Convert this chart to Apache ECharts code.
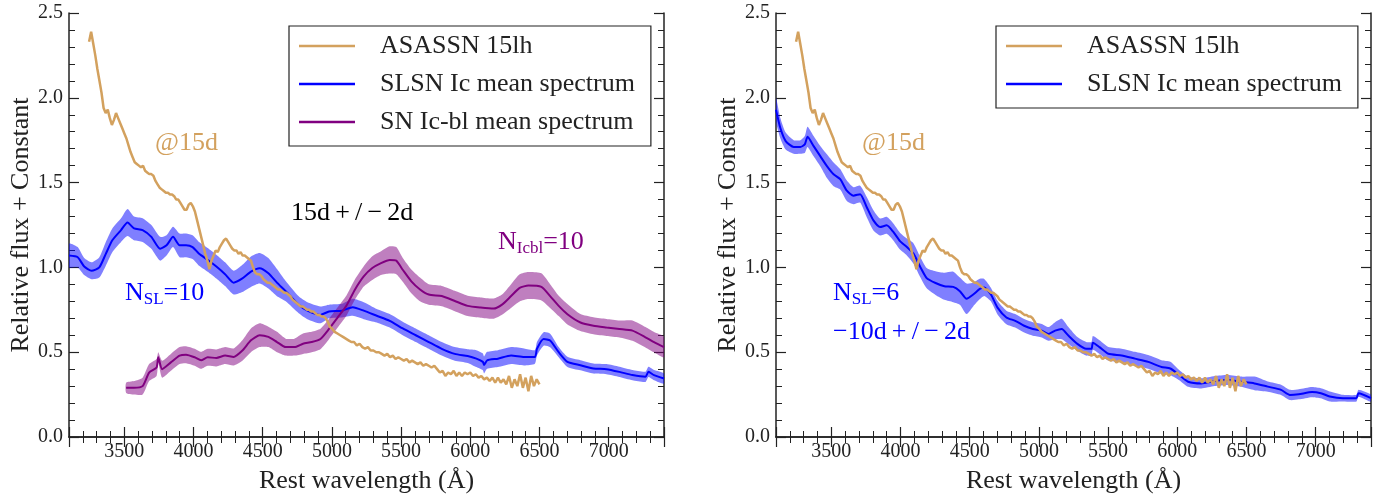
<!DOCTYPE html>
<html>
<head>
<meta charset="utf-8">
<script src="https://cdn.jsdelivr.net/npm/echarts@6/dist/echarts.min.js"></script>
<style>
html, body { margin: 0; padding: 0; background: #fff; }
#chart { width: 1387px; height: 499px; }
</style>
</head>
<body>
<div id="chart"></div>
<script>
// ASASSN 15lh spectrum @15d: [wavelength, flux] (same spectrum in both panels)
const asassn15lh = [
  [3245,2.33],[3260,2.39],[3275,2.32],[3290,2.25],[3305,2.17],[3320,2.10],[3335,2.03],[3350,1.94],
  [3365,1.91],[3380,1.93],[3395,1.88],[3410,1.84],[3425,1.87],[3440,1.91],[3455,1.88],[3470,1.85],
  [3485,1.82],[3500,1.79],[3515,1.76],[3530,1.72],[3545,1.68],[3560,1.65],[3575,1.62],[3590,1.61],
  [3605,1.60],[3620,1.59],[3635,1.60],[3650,1.57],[3665,1.56],[3680,1.55],[3695,1.55],[3710,1.54],
  [3725,1.51],[3740,1.49],[3755,1.47],[3770,1.46],[3785,1.45],[3800,1.44],[3815,1.44],[3830,1.43],
  [3845,1.43],[3860,1.42],[3875,1.40],[3890,1.40],[3905,1.38],[3920,1.36],[3935,1.34],[3950,1.34],
  [3965,1.37],[3980,1.38],[3995,1.36],[4010,1.33],[4025,1.28],[4040,1.23],[4055,1.18],[4070,1.13],
  [4085,1.08],[4100,1.04],[4115,0.99],[4130,1.04],[4145,1.07],[4160,1.10],[4175,1.09],[4190,1.12],
  [4205,1.14],[4220,1.16],[4235,1.17],[4250,1.15],[4265,1.13],[4280,1.11],[4295,1.10],[4310,1.10],
  [4325,1.08],[4340,1.09],[4355,1.07],[4370,1.07],[4385,1.06],[4400,1.05],[4415,1.04],[4430,1.00],
  [4445,0.97],[4460,0.96],[4475,0.96],[4490,0.95],[4505,0.93],[4520,0.92],[4535,0.91],[4550,0.91],
  [4565,0.90],[4580,0.89],[4595,0.88],[4610,0.87],[4625,0.87],[4640,0.86],[4655,0.85],[4670,0.85],
  [4685,0.84],[4700,0.83],[4715,0.81],[4730,0.80],[4745,0.79],[4760,0.78],[4775,0.77],[4790,0.77],
  [4805,0.76],[4820,0.75],[4835,0.75],[4850,0.74],[4865,0.74],[4880,0.73],[4895,0.72],[4910,0.72],
  [4925,0.71],[4940,0.71],[4955,0.70],[4970,0.68],[4985,0.65],[5000,0.64],[5020,0.62],[5040,0.61],
  [5060,0.60],[5080,0.59],[5100,0.58],[5120,0.57],[5140,0.56],[5160,0.56],[5180,0.54],[5200,0.55],
  [5220,0.53],[5240,0.52],[5260,0.53],[5280,0.51],[5300,0.51],[5320,0.50],[5340,0.50],[5360,0.49],
  [5380,0.48],[5400,0.49],[5420,0.47],[5440,0.48],[5460,0.46],[5480,0.47],[5500,0.46],[5520,0.45],
  [5540,0.46],[5560,0.44],[5580,0.45],[5600,0.44],[5620,0.43],[5640,0.44],[5660,0.42],[5680,0.43],
  [5700,0.42],[5720,0.41],[5740,0.42],[5760,0.40],[5780,0.38],[5800,0.39],[5820,0.36],[5840,0.38],
  [5860,0.37],[5880,0.39],[5900,0.36],[5920,0.38],[5940,0.36],[5960,0.38],[5980,0.37],[6000,0.38],
  [6020,0.36],[6040,0.37],[6060,0.35],[6080,0.36],[6100,0.34],[6120,0.35],[6140,0.33],[6160,0.35],
  [6180,0.32],[6200,0.35],[6220,0.32],[6240,0.34],[6260,0.31],[6280,0.36],[6300,0.29],[6320,0.34],
  [6340,0.30],[6360,0.37],[6380,0.29],[6400,0.35],[6420,0.27],[6440,0.36],[6460,0.30],[6480,0.34],
  [6500,0.31]
];

// SLSN Ic mean spectrum, 15d+/-2d: [wavelength, flux, half-width of band]
const slsn15d = [
  [3100,1.07,0.07],[3163,1.06,0.06],[3210,1.005,0.05],[3263,0.98,0.05],[3319,1.00,0.06],[3366,1.08,0.07],
  [3413,1.16,0.07],[3476,1.22,0.07],[3523,1.265,0.08],[3570,1.23,0.07],[3632,1.22,0.07],[3695,1.18,0.07],
  [3758,1.11,0.07],[3805,1.13,0.06],[3852,1.18,0.06],[3899,1.13,0.07],[3946,1.13,0.07],[3993,1.12,0.07],
  [4040,1.08,0.07],[4102,1.045,0.07],[4165,1.005,0.07],[4228,0.96,0.07],[4290,0.91,0.07],[4353,0.935,0.08],
  [4415,0.975,0.09],[4478,0.995,0.09],[4541,0.965,0.09],[4603,0.91,0.08],[4666,0.86,0.06],[4760,0.78,0.05],
  [4823,0.745,0.05],[4917,0.72,0.05],[4979,0.74,0.04],[5073,0.745,0.04],[5151,0.765,0.05],[5230,0.745,0.05],
  [5324,0.715,0.04],[5418,0.685,0.04],[5512,0.64,0.04],[5606,0.60,0.04],[5700,0.56,0.04],[5794,0.52,0.04],
  [5888,0.49,0.04],[5981,0.477,0.04],[6044,0.462,0.05],[6091,0.443,0.05],[6100,0.425,0.05],[6122,0.452,0.05],
  [6200,0.462,0.05],[6295,0.48,0.05],[6389,0.472,0.05],[6467,0.472,0.04],[6482,0.52,0.04],[6530,0.578,0.04],
  [6577,0.569,0.04],[6639,0.50,0.03],[6702,0.443,0.03],[6796,0.423,0.03],[6890,0.404,0.03],[6984,0.40,0.03],
  [7078,0.384,0.03],[7172,0.365,0.03],[7266,0.355,0.03],[7288,0.384,0.03],[7328,0.365,0.03],[7400,0.345,0.03]
];

// SN Ic-bl mean spectrum, 15d+/-2d
const icbl15d = [
  [3513,0.29,0.03],[3570,0.29,0.04],[3632,0.30,0.05],[3679,0.38,0.05],[3733,0.41,0.05],[3745,0.47,0.03],
  [3773,0.40,0.05],[3836,0.44,0.05],[3899,0.48,0.05],[3946,0.485,0.05],[4008,0.47,0.05],[4055,0.452,0.05],
  [4102,0.47,0.05],[4165,0.466,0.05],[4228,0.48,0.05],[4290,0.472,0.05],[4353,0.51,0.06],[4415,0.57,0.07],
  [4478,0.60,0.07],[4541,0.59,0.06],[4603,0.56,0.06],[4666,0.53,0.05],[4729,0.53,0.05],[4791,0.55,0.06],
  [4854,0.56,0.06],[4917,0.578,0.06],[4979,0.637,0.06],[5042,0.705,0.06],[5104,0.773,0.06],[5167,0.87,0.06],
  [5230,0.947,0.06],[5292,0.996,0.07],[5355,1.025,0.07],[5418,1.044,0.08],[5465,1.04,0.08],[5512,0.986,0.07],
  [5574,0.918,0.07],[5637,0.87,0.07],[5700,0.84,0.06],[5794,0.831,0.06],[5888,0.802,0.06],[5981,0.773,0.06],
  [6075,0.763,0.06],[6169,0.757,0.06],[6232,0.782,0.06],[6295,0.831,0.07],[6357,0.879,0.08],[6420,0.893,0.08],
  [6514,0.885,0.08],[6577,0.831,0.07],[6639,0.773,0.06],[6702,0.724,0.06],[6796,0.675,0.05],[6890,0.656,0.05],
  [6984,0.646,0.05],[7078,0.637,0.05],[7172,0.627,0.06],[7266,0.588,0.06],[7328,0.559,0.06],[7400,0.53,0.06]
];

// SLSN Ic mean spectrum, -10d+/-2d
const slsnMinus10d = [
  [3100,1.93,0.07],[3132,1.82,0.06],[3170,1.745,0.05],[3228,1.71,0.04],[3276,1.71,0.04],[3308,1.725,0.05],
  [3328,1.77,0.06],[3372,1.715,0.06],[3420,1.656,0.06],[3468,1.597,0.07],[3516,1.549,0.07],[3564,1.52,0.06],
  [3612,1.452,0.06],[3660,1.423,0.05],[3708,1.432,0.05],[3756,1.355,0.06],[3804,1.277,0.06],[3852,1.238,0.05],
  [3900,1.248,0.05],[3948,1.209,0.05],[3996,1.155,0.05],[4044,1.122,0.05],[4093,1.083,0.06],[4141,1.005,0.06],
  [4189,0.937,0.06],[4253,0.908,0.07],[4317,0.889,0.08],[4381,0.885,0.09],[4429,0.86,0.08],[4477,0.815,0.09],
  [4525,0.84,0.07],[4573,0.873,0.06],[4605,0.882,0.05],[4653,0.84,0.04],[4701,0.763,0.04],[4765,0.705,0.04],
  [4829,0.685,0.04],[4893,0.656,0.04],[4957,0.637,0.04],[5021,0.627,0.04],[5069,0.608,0.04],[5117,0.627,0.05],
  [5165,0.637,0.06],[5213,0.598,0.05],[5278,0.549,0.04],[5342,0.52,0.04],[5380,0.52,0.04],[5390,0.555,0.04],
  [5438,0.53,0.04],[5502,0.491,0.04],[5598,0.481,0.04],[5694,0.462,0.04],[5790,0.443,0.04],[5886,0.413,0.04],
  [5950,0.404,0.04],[6014,0.365,0.03],[6078,0.326,0.03],[6174,0.316,0.03],[6270,0.33,0.03],[6366,0.336,0.03],
  [6462,0.326,0.03],[6558,0.316,0.04],[6654,0.297,0.03],[6750,0.278,0.03],[6814,0.248,0.03],[6878,0.252,0.03],
  [6974,0.265,0.03],[7038,0.258,0.03],[7102,0.239,0.03],[7198,0.229,0.02],[7294,0.229,0.02],[7310,0.258,0.02],
  [7400,0.229,0.02]
];

const legendLeft = ['ASASSN 15lh', 'SLSN Ic mean spectrum', 'SN Ic-bl mean spectrum'];
const legendRight = ['ASASSN 15lh', 'SLSN Ic mean spectrum'];

const FONT = '"Liberation Serif", "DejaVu Serif", serif';
const INK = '#222';
const TAN = '#d3a15e';
const BLUE = '#0000ff';
const PURPLE = '#800080';

function xAxes(gridIndex) {
  const base = {
    type: 'value', gridIndex: gridIndex, min: 3100, max: 7400, splitNumber: 8,
    splitLine: { show: false },
    axisLine: { lineStyle: { color: INK, width: 1.5 } },
    axisTick: { inside: true, length: 10, lineStyle: { color: INK, width: 1.2 } },
    minorTick: { show: true, splitNumber: 5, length: 6, lineStyle: { color: INK, width: 1 } }
  };
  return [
    Object.assign({}, base, {
      position: 'bottom',
      name: 'Rest wavelength (Å)', nameLocation: 'middle', nameGap: 31,
      nameTextStyle: { fontFamily: FONT, fontSize: 26, color: INK },
      axisLabel: {
        margin: 5, fontFamily: FONT, fontSize: 20, color: INK,
        formatter: v => (v % 500 === 0 ? String(v) : '')
      }
    }),
    Object.assign({}, base, { position: 'top', axisLabel: { show: false } })
  ];
}

function yAxes(gridIndex) {
  const base = {
    type: 'value', gridIndex: gridIndex, min: 0, max: 2.5, interval: 0.5,
    splitLine: { show: false },
    axisLine: { lineStyle: { color: INK, width: 1.5 } },
    axisTick: { inside: true, length: 10, lineStyle: { color: INK, width: 1.2 } },
    minorTick: { show: true, splitNumber: 5, length: 6, lineStyle: { color: INK, width: 1 } }
  };
  return [
    Object.assign({}, base, {
      position: 'left',
      name: 'Relative flux + Constant', nameLocation: 'middle', nameGap: 34, nameRotate: 90,
      nameTextStyle: { fontFamily: FONT, fontSize: 26, color: INK },
      axisLabel: { margin: 6, fontFamily: FONT, fontSize: 20, color: INK, formatter: v => v.toFixed(1) }
    }),
    Object.assign({}, base, { position: 'right', axisLabel: { show: false } })
  ];
}

// shaded spread around a mean spectrum, drawn as one polygon through the axes
function band(rows, fill, axisIndex) {
  return {
    type: 'custom', name: 'band' + axisIndex + fill, xAxisIndex: axisIndex, yAxisIndex: axisIndex,
    silent: true, clip: true, z: 1,
    data: rows.map(r => [r[0], r[1] - r[2], r[1] + r[2]]),
    encode: { x: 0, y: [1, 2] },
    renderItem: function (params, api) {
      if (params.dataIndex !== 0) return null;
      const upper = rows.map(r => api.coord([r[0], r[1] + r[2]]));
      const lower = rows.map(r => api.coord([r[0], r[1] - r[2]])).reverse();
      return { type: 'polygon', shape: { points: upper.concat(lower), smooth: 0.2 }, style: { fill: fill } };
    }
  };
}

function line(name, rows, color, axisIndex, width, smooth) {
  return {
    type: 'line', name: name, xAxisIndex: axisIndex, yAxisIndex: axisIndex,
    data: rows.map(r => [r[0], r[1]]),
    color: color, symbol: 'none', showSymbol: false, clip: true, z: 3, smooth: smooth,
    lineStyle: { color: color, width: width }
  };
}

function legend(left, names) {
  return {
    left: left, top: 26, orient: 'vertical', data: names, selectedMode: false,
    icon: 'rect', itemWidth: 56, itemHeight: 2.5, itemGap: 8,
    padding: [5, 16, 9, 10], borderColor: INK, borderWidth: 1.2,
    textStyle: { fontFamily: FONT, fontSize: 26, lineHeight: 30, color: INK, padding: [0, 0, 0, 20] }
  };
}

function label(left, top, text, color) {
  return {
    type: 'text', left: left, top: top, silent: true,
    style: {
      text: text, fill: color, font: '26px ' + FONT, lineHeight: 30,
      rich: {
        n: { fontFamily: FONT, fontSize: 26, lineHeight: 30, fill: color },
        s: { fontFamily: FONT, fontSize: 17, lineHeight: 17, verticalAlign: 'bottom', fill: color }
      }
    }
  };
}

const chart = echarts.init(document.getElementById('chart'));
chart.setOption({
  animation: false,
  backgroundColor: '#fff',
  grid: [
    { left: 69, top: 13, width: 595, height: 430 },
    { left: 776, top: 13, width: 595, height: 430 }
  ],
  xAxis: xAxes(0).concat(xAxes(1)),
  yAxis: yAxes(0).concat(yAxes(1)),
  legend: [legend(289, legendLeft), legend(996, legendRight)],
  graphic: [
    label(155, 128, '@15d', TAN),
    label(291, 198, '15d\u2009+\u2009/\u2009\u2212\u20092d', '#000'),
    label(498, 227, '{n|N}{s|Icbl}{n|=10}', PURPLE),
    label(125, 278, '{n|N}{s|SL}{n|=10}', BLUE),
    label(862, 128, '@15d', TAN),
    label(833, 278, '{n|N}{s|SL}{n|=6}', BLUE),
    label(833, 317, '\u221210d\u2009+\u2009/\u2009\u2212\u20092d', BLUE)
  ],
  series: [
    band(slsn15d, 'rgba(0,0,255,0.5)', 0),
    band(icbl15d, 'rgba(128,0,128,0.5)', 0),
    line('SLSN Ic mean spectrum', slsn15d, BLUE, 0, 2, 0.2),
    line('SN Ic-bl mean spectrum', icbl15d, PURPLE, 0, 2, 0.2),
    line('ASASSN 15lh', asassn15lh, TAN, 0, 2.5, false),
    band(slsnMinus10d, 'rgba(0,0,255,0.5)', 2),
    line('SLSN Ic mean spectrum', slsnMinus10d, BLUE, 2, 2, 0.2),
    line('ASASSN 15lh', asassn15lh, TAN, 2, 2.5, false)
  ]
});
</script>
</body>
</html>
